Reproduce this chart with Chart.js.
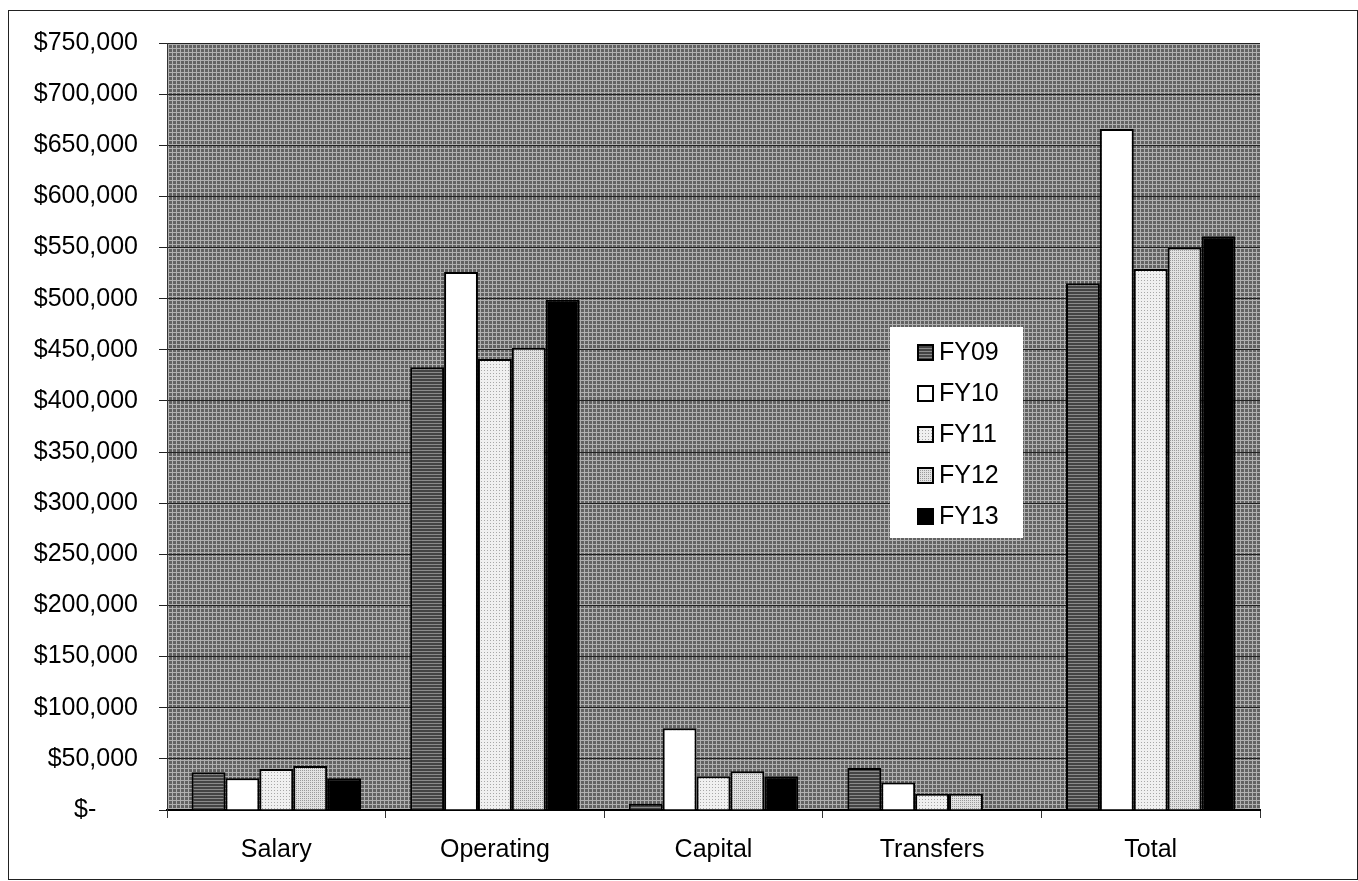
<!DOCTYPE html>
<html>
<head>
<meta charset="utf-8">
<script src="https://cdn.jsdelivr.net/npm/chart.js@4"></script>
<style>
  html, body { margin: 0; padding: 0; background: #fff; }
  #wrap { width: 1358px; height: 881px; }
</style>
</head>
<body>
<div id="wrap"><canvas id="grafica" width="1358" height="881"></canvas></div>
<script>
const categories = ['Salary', 'Operating', 'Capital', 'Transfers', 'Total'];
const seriesNames = ['FY09', 'FY10', 'FY11', 'FY12', 'FY13'];
const fy09 = [37000, 433000, 6000, 41000, 515000];
const fy10 = [31000, 526000, 80000, 27000, 666000];
const fy11 = [40000, 441000, 33000, 16000, 529000];
const fy12 = [43000, 452000, 38000, 16000, 550000];
const fy13 = [31000, 499000, 33000, 0, 561000];
const yTicks = [0, 50000, 100000, 150000, 200000, 250000, 300000, 350000,
  400000, 450000, 500000, 550000, 600000, 650000, 700000, 750000];

// small dithered tiles, like the old printed chart
function makePattern(base, dot, size, cells) {
  const c = document.createElement('canvas');
  c.width = size; c.height = size;
  const ctx = c.getContext('2d');
  ctx.fillStyle = base;
  ctx.fillRect(0, 0, size, size);
  ctx.fillStyle = dot;
  cells.forEach(p => ctx.fillRect(p[0], p[1], 1, 1));
  return ctx.createPattern(c, 'repeat');
}
const plotBg = makePattern('#626262', '#b0b0b0', 4, [[0,0],[1,0],[2,0],[3,0],[0,1],[0,2],[0,3]]);
const fills = [
  makePattern('#444444', '#8a8a8a', 3, [[0,0],[1,0],[2,0]]),
  '#ffffff',
  makePattern('#f0f0f0', '#a8a8a8', 3, [[1,1]]),
  makePattern('#e2e2e2', '#9a9a9a', 2, [[0,0]]),
  '#000000'
];
const values = [fy09, fy10, fy11, fy12, fy13];
const font = '"Liberation Sans", Arial, sans-serif';

const datasets = seriesNames.map((name, i) => ({
  label: name,
  data: values[i],
  backgroundColor: fills[i],
  borderColor: '#000',
  borderWidth: 2,
  borderSkipped: 'bottom',
  barPercentage: 1.0,
  categoryPercentage: 0.775
}));

const framePlugin = {
  id: 'frame',
  beforeDraw(chart) {
    const ctx = chart.ctx;
    const a = chart.chartArea;
    ctx.save();
    ctx.fillStyle = '#fff';
    ctx.fillRect(0, 0, chart.width, chart.height);
    ctx.strokeStyle = '#222';
    ctx.lineWidth = 1;
    ctx.strokeRect(8.5, 10.5, chart.width - 9, chart.height - 12);
    ctx.fillStyle = plotBg;
    ctx.fillRect(a.left, a.top, a.right - a.left, a.bottom - a.top);
    ctx.restore();
  },
  afterDraw(chart) { // leyenda dentro del area, como en el original
    const ctx = chart.ctx;
    ctx.save();
    ctx.fillStyle = '#fff';
    ctx.fillRect(890, 327, 133, 211);
    ctx.font = '25px ' + font;
    ctx.textBaseline = 'middle';
    chart.data.datasets.forEach((ds, i) => {
      const y = 352 + i * 41;
      ctx.fillStyle = ds.backgroundColor;
      ctx.fillRect(918, y - 7, 15, 15);
      ctx.strokeStyle = '#000';
      ctx.lineWidth = 2;
      ctx.strokeRect(918, y - 7, 15, 15);
      ctx.fillStyle = '#000';
      ctx.fillText(ds.label, 939, y + 1);
    });
    ctx.restore();
  }
};

const chart = new Chart(document.getElementById('grafica'), {
  type: 'bar',
  data: { labels: categories, datasets: datasets },
  options: {
    responsive: false,
    animation: false,
    layout: { padding: { top: 43, right: 98, bottom: 0, left: 0 } },
    plugins: { legend: { display: false }, tooltip: { enabled: false } },
    scales: {
      x: {
        grid: { offset: true, drawOnChartArea: false, drawTicks: true, tickLength: 8, color: '#333' },
        border: { color: '#000', width: 2 },
        ticks: { color: '#000', padding: 17, font: { family: font, size: 25 } },
        afterFit(scale) { scale.height = 71; }
      },
      y: {
        min: 0,
        max: 750000,
        afterBuildTicks(scale) { scale.ticks = yTicks.map(v => ({ value: v })); },
        grid: { color: '#222', lineWidth: 1, tickLength: 8 },
        border: { color: '#333', width: 1 },
        ticks: {
          color: '#000',
          padding: 21,
          font: { family: font, size: 25 },
          callback: v => v === 0 ? '$-\u00a0\u00a0\u00a0\u00a0\u00a0\u00a0' : '$' + v.toLocaleString('en-US')
        },
        afterFit(scale) { scale.width = 167; }
      }
    }
  },
  plugins: [framePlugin]
});
</script>
</body>
</html>
